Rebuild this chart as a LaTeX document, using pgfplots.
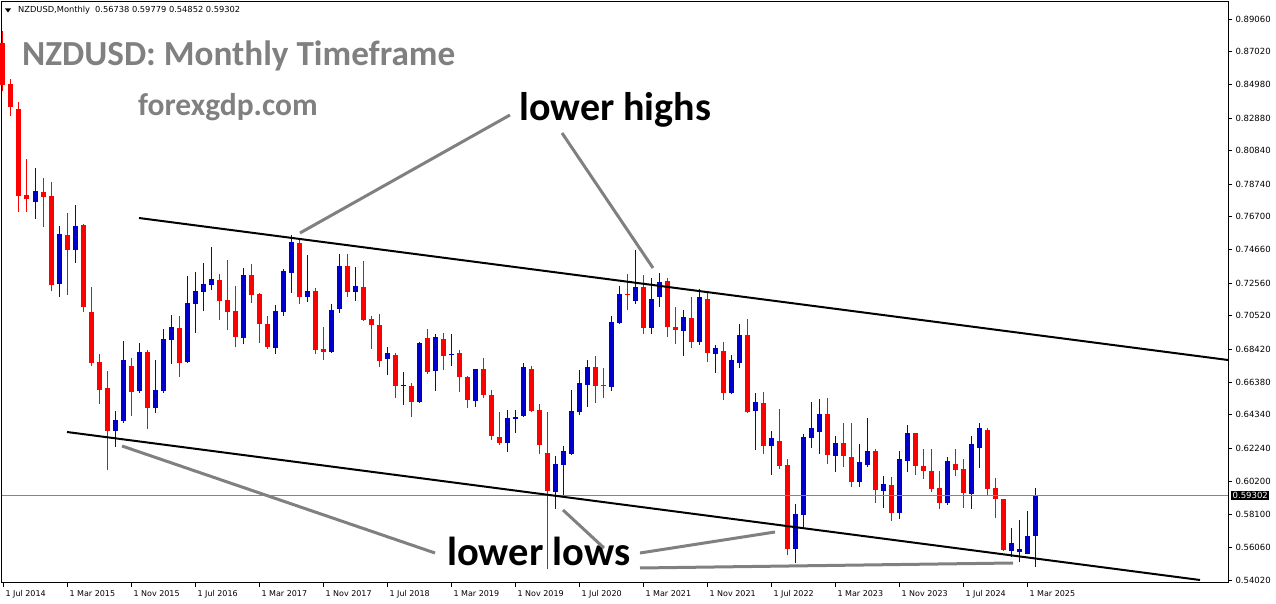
\documentclass[border=0pt]{standalone}
\usepackage{fontspec}
\setmainfont{DejaVu Sans}
\newfontfamily\calib{Carlito}
\usepackage{pgfplots}
\usepackage{pgfplotstable}
\pgfplotsset{compat=1.18}

\definecolor{mtred}{RGB}{255,0,0}
\definecolor{mtblue}{RGB}{0,0,205}
\definecolor{annot}{RGB}{128,128,128}
\definecolor{pline}{RGB}{119,136,153}

% monthly candles, i = months since Jul 2014
\pgfplotstableread{
i o h l c
0 0.8756 0.8831 0.8456 0.8494
1 0.8500 0.8531 0.8300 0.8356
2 0.8344 0.8388 0.7701 0.7800
3 0.7807 0.8032 0.7701 0.7782
5 0.7825 0.7913 0.7607 0.7794
6 0.7800 0.7888 0.7207 0.7245
8 0.7557 0.7694 0.7182 0.7463
10 0.7619 0.7626 0.7076 0.7107
11 0.7076 0.7232 0.6739 0.6757
12 0.6764 0.6814 0.6501 0.6589
13 0.6601 0.6707 0.6089 0.6333
16 0.6739 0.6789 0.6426 0.6576
18 0.6826 0.6839 0.6345 0.6476
22 0.6976 0.7051 0.6670 0.6757
27 0.7276 0.7313 0.7026 0.7145
28 0.7151 0.7401 0.6964 0.7076
29 0.7082 0.7238 0.6857 0.6920
31 0.7307 0.7376 0.7132 0.7182
32 0.7188 0.7195 0.6882 0.7001
33 0.7001 0.7051 0.6845 0.6857
37 0.7507 0.7526 0.7126 0.7170
39 0.7207 0.7226 0.6814 0.6839
40 0.6845 0.6982 0.6776 0.6826
43 0.7363 0.7438 0.7170 0.7201
45 0.7232 0.7395 0.7020 0.7026
46 0.7032 0.7051 0.6845 0.6995
47 0.6995 0.7063 0.6732 0.6770
49 0.6807 0.6820 0.6539 0.6614
51 0.6614 0.6632 0.6420 0.6514
53 0.6914 0.6970 0.6689 0.6701
55 0.6907 0.6945 0.6714 0.6801
57 0.6820 0.6839 0.6576 0.6670
58 0.6670 0.6676 0.6476 0.6526
60 0.6720 0.6789 0.6539 0.6558
61 0.6558 0.6589 0.6276 0.6301
62 0.6295 0.6451 0.6245 0.6258
66 0.6720 0.6739 0.6451 0.6458
67 0.6464 0.6501 0.6189 0.6245
68 0.6195 0.6451 0.5469 0.5958
74 0.6732 0.6801 0.6508 0.6614
75 0.6620 0.6726 0.6539 0.6614
78 0.7188 0.7313 0.7088 0.7182
80 0.7232 0.7307 0.6939 0.6976
83 0.7270 0.7288 0.6920 0.6982
84 0.6982 0.7107 0.6876 0.6964
86 0.7038 0.7170 0.6851 0.6889
88 0.7157 0.7201 0.6764 0.6820
90 0.6832 0.6889 0.6526 0.6570
93 0.6932 0.7032 0.6445 0.6451
95 0.6508 0.6576 0.6189 0.6239
97 0.6270 0.6470 0.6095 0.6114
98 0.6120 0.6158 0.5558 0.5596
103 0.6439 0.6539 0.6127 0.6183
105 0.6258 0.6383 0.6108 0.6177
106 0.6170 0.6383 0.5983 0.6014
109 0.6208 0.6220 0.5883 0.5964
111 0.5995 0.6045 0.5771 0.5820
114 0.6320 0.6320 0.6058 0.6114
115 0.6114 0.6220 0.6033 0.6083
116 0.6083 0.6220 0.5952 0.5970
117 0.5977 0.6083 0.5845 0.5883
119 0.6127 0.6220 0.6052 0.6089
120 0.6095 0.6158 0.5852 0.5945
123 0.6339 0.6351 0.5933 0.5970
124 0.5977 0.6039 0.5789 0.5908
125 0.5908 0.5908 0.5583 0.5589
}\bear

\pgfplotstableread{
i o h l c
4 0.7763 0.7975 0.7657 0.7832
7 0.7251 0.7613 0.7170 0.7563
9 0.7463 0.7744 0.7382 0.7613
14 0.6333 0.6458 0.6233 0.6401
15 0.6395 0.6895 0.6383 0.6776
17 0.6583 0.6882 0.6570 0.6826
19 0.6476 0.6776 0.6445 0.6589
20 0.6583 0.6970 0.6570 0.6907
21 0.6901 0.7057 0.6751 0.6982
23 0.6764 0.7301 0.6757 0.7132
24 0.7126 0.7326 0.6945 0.7207
25 0.7201 0.7382 0.7082 0.7251
26 0.7245 0.7482 0.7213 0.7282
30 0.6914 0.7351 0.6876 0.7307
34 0.6851 0.7120 0.6814 0.7082
35 0.7076 0.7345 0.7051 0.7332
36 0.7320 0.7557 0.7195 0.7513
38 0.7170 0.7432 0.7138 0.7207
41 0.6826 0.7126 0.6820 0.7088
42 0.7095 0.7438 0.7070 0.7363
44 0.7201 0.7357 0.7145 0.7238
48 0.6782 0.6857 0.6682 0.6820
50 0.6614 0.6701 0.6495 0.6620
52 0.6514 0.6889 0.6508 0.6882
54 0.6707 0.6939 0.6583 0.6920
56 0.6807 0.6939 0.6739 0.6814
59 0.6520 0.6720 0.6483 0.6720
63 0.6258 0.6464 0.6202 0.6414
64 0.6408 0.6464 0.6320 0.6420
65 0.6426 0.6757 0.6420 0.6732
69 0.5952 0.6177 0.5845 0.6127
70 0.6120 0.6239 0.5920 0.6208
71 0.6189 0.6589 0.6183 0.6458
72 0.6451 0.6714 0.6433 0.6632
73 0.6620 0.6776 0.6483 0.6732
76 0.6608 0.7051 0.6583 0.7013
77 0.7007 0.7238 0.7001 0.7188
79 0.7145 0.7463 0.7126 0.7232
81 0.6976 0.7288 0.6939 0.7157
82 0.7170 0.7320 0.7107 0.7263
85 0.6957 0.7088 0.6801 0.7045
87 0.6889 0.7220 0.6870 0.7170
89 0.6814 0.6870 0.6695 0.6851
91 0.6570 0.6807 0.6564 0.6776
92 0.6757 0.7001 0.6726 0.6932
94 0.6458 0.6570 0.6214 0.6514
96 0.6239 0.6333 0.6058 0.6289
99 0.5596 0.5877 0.5508 0.5814
100 0.5808 0.6314 0.5733 0.6295
101 0.6289 0.6514 0.6226 0.6351
102 0.6326 0.6533 0.6189 0.6439
104 0.6177 0.6301 0.6077 0.6258
107 0.6014 0.6251 0.5983 0.6139
108 0.6120 0.6414 0.6108 0.6208
110 0.5958 0.6052 0.5852 0.6002
112 0.5820 0.6208 0.5783 0.6158
113 0.6145 0.6370 0.6077 0.6320
118 0.5883 0.6170 0.5871 0.6145
121 0.5939 0.6301 0.5845 0.6251
122 0.6226 0.6383 0.6102 0.6351
126 0.5583 0.5727 0.5546 0.5633
127 0.5577 0.5777 0.5514 0.5596
128 0.5564 0.5833 0.5564 0.5677
129 0.56738 0.59779 0.54852 0.59302
}\bull

\begin{document}
\begin{tikzpicture}
\useasboundingbox (0,0) rectangle (1276pt,604pt);
\begin{axis}[
    at={(2pt,21pt)}, anchor=south west,
    width=1226pt, height=581pt, scale only axis,
    xmin=-0.125, xmax=153.125,
    ymin=0.53833, ymax=0.90122,
    clip=false,
    axis line style={line width=1pt},
    xtick={0,8,...,128},
    xticklabels={1 Jul 2014,1 Mar 2015,1 Nov 2015,1 Jul 2016,1 Mar 2017,1 Nov 2017,1 Jul 2018,1 Mar 2019,1 Nov 2019,1 Jul 2020,1 Mar 2021,1 Nov 2021,1 Jul 2022,1 Mar 2023,1 Nov 2023,1 Jul 2024,1 Mar 2025},
    ytick={0.5402,0.5606,0.5810,0.6020,0.6224,0.6434,0.6638,0.6842,0.7052,0.7256,0.7466,0.7670,0.7874,0.8084,0.8288,0.8498,0.8702,0.8906},
    yticklabels={0.54020,0.56060,0.58100,0.60200,0.62240,0.64340,0.66380,0.68420,0.70520,0.72560,0.74660,0.76700,0.78740,0.80840,0.82880,0.84980,0.87020,0.89060},
    xtick pos=bottom, ytick pos=right, yticklabel pos=right,
    tick align=outside, major tick length=4pt,
    tick style={black, line width=0.8pt},
    xticklabel style={font=\fontsize{8}{9}\selectfont, anchor=north west, xshift=-1pt},
    yticklabel style={font=\fontsize{8.5}{10}\selectfont, anchor=west},
]
% wicks
\addplot[draw=none, mark=none, forget plot, error bars/.cd, y dir=plus, y explicit,
    error mark=none, error bar style={draw=mtred, line width=1pt}]
    table[x=i, y=l, y error expr=\thisrow{h}-\thisrow{l}] {\bear};
\addplot[draw=none, mark=none, forget plot, error bars/.cd, y dir=plus, y explicit,
    error mark=none, error bar style={draw=mtblue, line width=1pt}]
    table[x=i, y=l, y error expr=\thisrow{h}-\thisrow{l}] {\bull};
% bodies
\addplot[draw=none, mark=none, forget plot, error bars/.cd, y dir=plus, y explicit,
    error mark=none, error bar style={draw=mtred, line width=5pt}]
    table[x=i, y=c, y error expr=\thisrow{o}-\thisrow{c}] {\bear};
\addplot[draw=none, mark=none, forget plot, error bars/.cd, y dir=plus, y explicit,
    error mark=none, error bar style={draw=mtblue, line width=5pt}]
    table[x=i, y=o, y error expr=\thisrow{c}-\thisrow{o}] {\bull};
% price line and channel
\addplot[pline, line width=0.8pt] coordinates {(-0.125,0.59302) (153.125,0.59302)};
\addplot[black, line width=2pt] coordinates {(17,0.76630) (153.125,0.67761)};
\addplot[black, line width=2pt] coordinates {(8,0.63264) (149.625,0.54020)};
\node[fill=black, text=white, anchor=west, inner sep=1.5pt, xshift=3pt,
    font=\fontsize{8.5}{10}\selectfont] at (axis cs:153.125,0.59302) {0.59302};
\end{axis}

% annotations, in pixel units from the top left corner
\begin{scope}[x=1pt, y=-1pt, yshift=604pt]
\fill (5,8.5) -- (11,8.5) -- (8,12.5) -- cycle;
\node[anchor=west, inner sep=0, font=\fontsize{8.3}{9}\selectfont] at (18,10.5)
    {NZDUSD,Monthly\hspace{5pt}0.56738 0.59779 0.54852 0.59302};
\node[anchor=base west, inner sep=0, text=annot, font=\calib\bfseries\fontsize{35.2}{40}\selectfont]
    at (22,66) {NZDUSD: Monthly Timeframe};
\node[anchor=base west, inner sep=0, text=annot, font=\calib\bfseries\fontsize{31.5}{36}\selectfont]
    at (138,116) {forexgdp.com};
\node[anchor=base west, inner sep=0, font=\calib\bfseries\fontsize{40}{46}\selectfont]
    at (519,121) {lower highs};
\node[anchor=base west, inner sep=0, font=\calib\bfseries\fontsize{40.5}{46}\selectfont]
    at (447,566) {lower lows};
\draw[annot, line width=3pt] (300,233) -- (510,115);
\draw[annot, line width=3pt] (562,133) -- (653,268);
\draw[annot, line width=3pt] (122,446) -- (435,553);
\draw[annot, line width=3pt] (563,510) -- (604,548);
\draw[annot, line width=3pt] (640,553) -- (775,532);
\draw[annot, line width=3pt] (640,568) -- (1013,563);
\end{scope}
\end{tikzpicture}
\end{document}
